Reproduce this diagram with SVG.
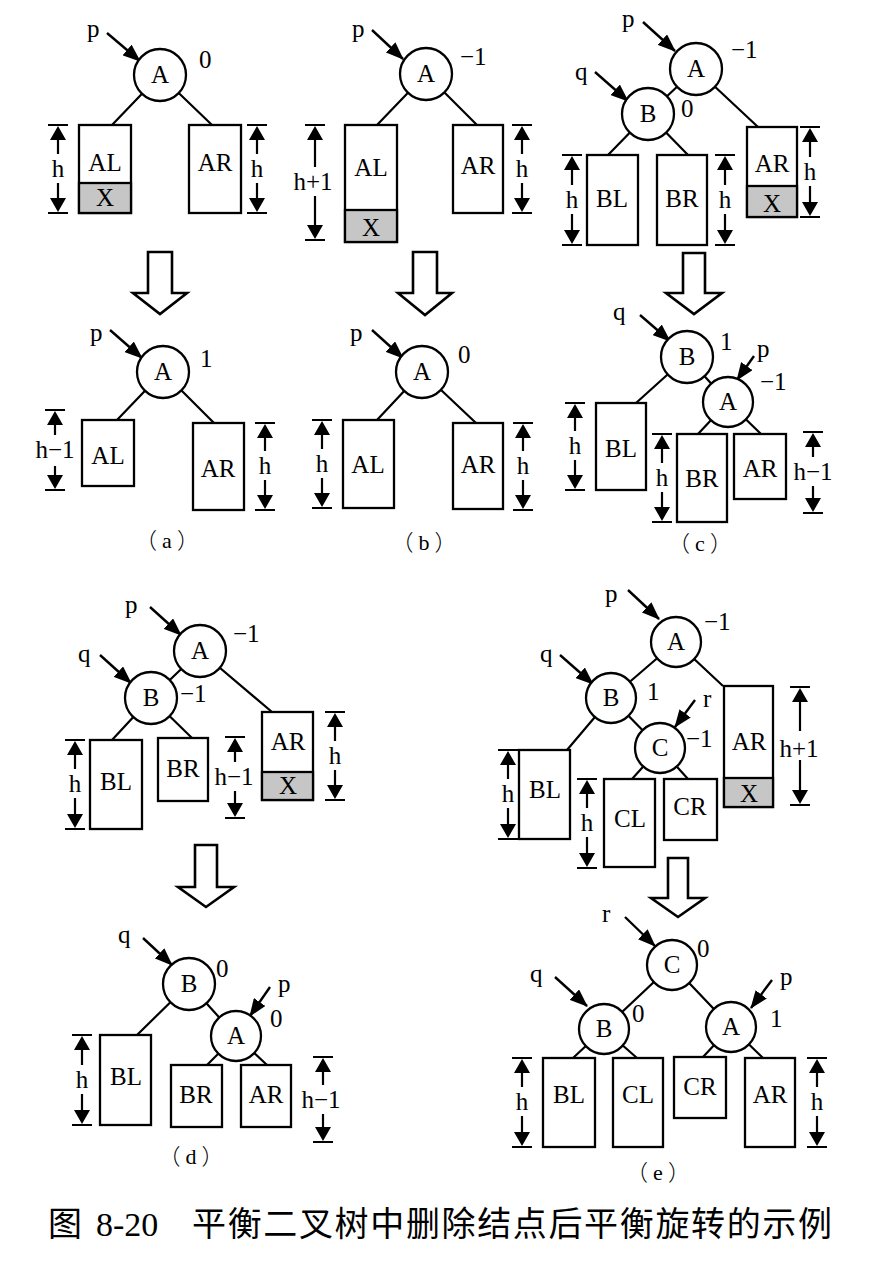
<svg xmlns="http://www.w3.org/2000/svg" width="880" height="1264" viewBox="0 0 880 1264">
<style>
.e{stroke:#000;stroke-width:2.2;fill:none}
.ptr{stroke:#000;stroke-width:2.4;fill:none;marker-end:url(#ah)}
.n{fill:#fff;stroke:#000;stroke-width:2.3}
.b{fill:#fff;stroke:#000;stroke-width:2.3}
.x{fill:#c6c6c6;stroke:#000;stroke-width:2.3}
.t{font-family:"Liberation Serif",serif;font-size:25px;fill:#000;text-anchor:middle}
.s{font-family:"Liberation Serif",serif;font-size:25px;fill:#000}
.cap{font-family:"Liberation Serif",serif;font-size:22px;fill:#000;text-anchor:middle}
.pa{font-family:"Noto Sans CJK SC",sans-serif;font-weight:300}
.dl{stroke:#000;stroke-width:2.2;fill:none}
.dt{fill:#000}
.big{fill:#fff;stroke:#000;stroke-width:2.6;stroke-linejoin:miter}
</style>
<defs>
<marker id="ah" markerUnits="userSpaceOnUse" markerWidth="18" markerHeight="14" refX="17" refY="7" orient="auto">
<path d="M0,0 L18,7 L0,14 Z" fill="#000"/>
</marker>
</defs>
<rect width="880" height="1264" fill="#fff"/>

<g id="connectors">
<path class="e" d="M160 75L112 125M160 75L212 125"/>
<path class="e" d="M426 74L377 125M426 74L477 125"/>
<path class="e" d="M696 69L648 114M696 69L758 127M648 114L608 155M648 114L688 155"/>
<path class="e" d="M163 372L117 420M163 372L214 423"/>
<path class="e" d="M422 372L377 420M422 372L476 423"/>
<path class="e" d="M687 357L728 402M687 357L636 403M728 402L698 434M728 402L761 434"/>
<path class="e" d="M200 651L151 698M200 651L272 712M151 698L112 740M151 698L192 738"/>
<path class="e" d="M189 984L236 1036M189 984L137 1035M236 1036L207 1065M236 1036L267 1065"/>
<path class="e" d="M676 642L611 698M676 642L723 686M611 698L660 748M611 698L567 750M660 748L632 779M660 748L688 779"/>
<path class="e" d="M672 965L604 1029M672 965L731 1027M604 1029L573 1058M604 1029L637 1058M731 1027L703 1057M731 1027L763 1058"/>
<line class="ptr" x1="107" y1="33" x2="140" y2="61"/>
<line class="ptr" x1="372" y1="30" x2="403" y2="59"/>
<line class="ptr" x1="643" y1="22" x2="675" y2="51"/>
<line class="ptr" x1="595" y1="72" x2="628" y2="101"/>
<line class="ptr" x1="110" y1="330" x2="142" y2="358"/>
<line class="ptr" x1="372" y1="330" x2="403" y2="358"/>
<line class="ptr" x1="640" y1="315" x2="670" y2="341"/>
<line class="ptr" x1="754" y1="356" x2="737" y2="380"/>
<line class="ptr" x1="150" y1="607" x2="181" y2="635"/>
<line class="ptr" x1="100" y1="655" x2="131" y2="683"/>
<line class="ptr" x1="143" y1="938" x2="172" y2="965"/>
<line class="ptr" x1="270" y1="987" x2="250" y2="1016"/>
<line class="ptr" x1="628" y1="590" x2="659" y2="619"/>
<line class="ptr" x1="560" y1="655" x2="593" y2="684"/>
<line class="ptr" x1="695" y1="700" x2="675" y2="727"/>
<line class="ptr" x1="625" y1="917" x2="655" y2="946"/>
<line class="ptr" x1="555" y1="977" x2="587" y2="1006"/>
<line class="ptr" x1="772" y1="980" x2="751" y2="1008"/>
</g>

<g id="transform-arrows">
<polygon class="big" points="148,252 172,252 172,293 187,293 160,314 133,293 148,293"/>
<polygon class="big" points="413,252 437,252 437,293 452,293 425,315 398,293 413,293"/>
<polygon class="big" points="683,253 705,253 705,293 722,293 694,314 666,293 683,293"/>
<polygon class="big" points="195,845 217,845 217,887 234,887 206,907 178,887 195,887"/>
<polygon class="big" points="668,858 688,858 688,898 705,898 678,917 651,898 668,898"/>
</g>

<g id="a-top">
<g id="a-top-A"><circle class="n" cx="160" cy="75" r="26"/><text class="t" x="160" y="83">A</text></g>
<text class="s" x="87" y="37">p</text>
<text class="s" x="199" y="68">0</text>
<g id="a-top-AL"><rect class="b" x="79" y="125" width="52" height="88"/><rect class="x" x="79" y="183" width="52" height="30"/><text class="t" x="105" y="171">AL</text><text class="t" x="105" y="206">X</text></g>
<g id="a-top-AR"><rect class="b" x="189" y="125" width="52" height="88"/><text class="t" x="215" y="171">AR</text></g>
</g>
<g id="a-bottom">
<g id="a-bot-A"><circle class="n" cx="163" cy="372" r="26"/><text class="t" x="163" y="380">A</text></g>
<text class="s" x="90" y="341">p</text>
<text class="s" x="200" y="367">1</text>
<g id="a-bot-AL"><rect class="b" x="82" y="420" width="52" height="66"/><text class="t" x="108" y="464">AL</text></g>
<g id="a-bot-AR"><rect class="b" x="193" y="423" width="51" height="87"/><text class="t" x="218" y="477">AR</text></g>
<text class="cap" x="167" y="548"><tspan class="pa">（</tspan><tspan dx="5">a</tspan><tspan class="pa" dx="5">）</tspan></text>
</g>

<g id="b-top">
<g id="b-top-A"><circle class="n" cx="426" cy="74" r="26"/><text class="t" x="426" y="82">A</text></g>
<text class="s" x="352" y="37">p</text>
<text class="s" x="460" y="65">−1</text>
<g id="b-top-AL"><rect class="b" x="345" y="125" width="52" height="117"/><rect class="x" x="345" y="210" width="52" height="32"/><text class="t" x="371" y="176">AL</text><text class="t" x="371" y="236">X</text></g>
<g id="b-top-AR"><rect class="b" x="453" y="125" width="50" height="88"/><text class="t" x="478" y="174">AR</text></g>
</g>
<g id="b-bottom">
<g id="b-bot-A"><circle class="n" cx="422" cy="372" r="26"/><text class="t" x="422" y="380">A</text></g>
<text class="s" x="350" y="341">p</text>
<text class="s" x="458" y="363">0</text>
<g id="b-bot-AL"><rect class="b" x="343" y="420" width="51" height="88"/><text class="t" x="368" y="473">AL</text></g>
<g id="b-bot-AR"><rect class="b" x="453" y="423" width="50" height="86"/><text class="t" x="478" y="473">AR</text></g>
<text class="cap" x="424" y="550"><tspan class="pa">（</tspan><tspan dx="5">b</tspan><tspan class="pa" dx="5">）</tspan></text>
</g>

<g id="c-top">
<g id="c-top-A"><circle class="n" cx="696" cy="69" r="26"/><text class="t" x="696" y="77">A</text></g>
<g id="c-top-B"><circle class="n" cx="648" cy="114" r="26"/><text class="t" x="648" y="122">B</text></g>
<text class="s" x="622" y="27">p</text>
<text class="s" x="731" y="58">−1</text>
<text class="s" x="575" y="80">q</text>
<text class="s" x="681" y="117">0</text>
<g id="c-top-AR"><rect class="b" x="747" y="127" width="50" height="90"/><rect class="x" x="747" y="186" width="50" height="31"/><text class="t" x="772" y="172">AR</text><text class="t" x="772" y="212">X</text></g>
<g id="c-top-BL"><rect class="b" x="587" y="155" width="51" height="90"/><text class="t" x="612" y="207">BL</text></g>
<g id="c-top-BR"><rect class="b" x="657" y="155" width="50" height="90"/><text class="t" x="682" y="207">BR</text></g>
</g>
<g id="c-bottom">
<g id="c-bot-B"><circle class="n" cx="687" cy="357" r="26"/><text class="t" x="687" y="365">B</text></g>
<g id="c-bot-A"><circle class="n" cx="728" cy="402" r="25"/><text class="t" x="728" y="410">A</text></g>
<text class="s" x="613" y="320">q</text>
<text class="s" x="720" y="350">1</text>
<text class="s" x="757" y="357">p</text>
<text class="s" x="760" y="390">−1</text>
<g id="c-bot-BL"><rect class="b" x="596" y="403" width="50" height="87"/><text class="t" x="621" y="457">BL</text></g>
<g id="c-bot-BR"><rect class="b" x="677" y="434" width="50" height="88"/><text class="t" x="702" y="487">BR</text></g>
<g id="c-bot-AR"><rect class="b" x="734" y="434" width="52" height="65"/><text class="t" x="760" y="477">AR</text></g>
<text class="cap" x="700" y="551"><tspan class="pa">（</tspan><tspan dx="5">c</tspan><tspan class="pa" dx="5">）</tspan></text>
</g>

<g id="d-top">
<g id="d-top-A"><circle class="n" cx="200" cy="651" r="26"/><text class="t" x="200" y="659">A</text></g>
<g id="d-top-B"><circle class="n" cx="151" cy="698" r="26"/><text class="t" x="151" y="706">B</text></g>
<text class="s" x="125" y="613">p</text>
<text class="s" x="233" y="642">−1</text>
<text class="s" x="78" y="662">q</text>
<text class="s" x="180" y="702">−1</text>
<g id="d-top-AR"><rect class="b" x="262" y="712" width="51" height="88"/><rect class="x" x="262" y="772" width="51" height="28"/><text class="t" x="288" y="750">AR</text><text class="t" x="288" y="794">X</text></g>
<g id="d-top-BL"><rect class="b" x="90" y="740" width="52" height="89"/><text class="t" x="116" y="790">BL</text></g>
<g id="d-top-BR"><rect class="b" x="158" y="738" width="50" height="63"/><text class="t" x="183" y="777">BR</text></g>
</g>
<g id="d-bottom">
<g id="d-bot-B"><circle class="n" cx="189" cy="984" r="26"/><text class="t" x="189" y="992">B</text></g>
<g id="d-bot-A"><circle class="n" cx="236" cy="1036" r="25"/><text class="t" x="236" y="1044">A</text></g>
<text class="s" x="118" y="943">q</text>
<text class="s" x="216" y="977">0</text>
<text class="s" x="278" y="992">p</text>
<text class="s" x="270" y="1027">0</text>
<g id="d-bot-BL"><rect class="b" x="100" y="1035" width="51" height="90"/><text class="t" x="126" y="1085">BL</text></g>
<g id="d-bot-BR"><rect class="b" x="171" y="1065" width="51" height="62"/><text class="t" x="196" y="1103">BR</text></g>
<g id="d-bot-AR"><rect class="b" x="241" y="1065" width="50" height="62"/><text class="t" x="266" y="1103">AR</text></g>
<text class="cap" x="191" y="1164"><tspan class="pa">（</tspan><tspan dx="5">d</tspan><tspan class="pa" dx="5">）</tspan></text>
</g>

<g id="e-top">
<g id="e-top-A"><circle class="n" cx="676" cy="642" r="25"/><text class="t" x="676" y="650">A</text></g>
<g id="e-top-B"><circle class="n" cx="611" cy="698" r="25"/><text class="t" x="611" y="706">B</text></g>
<g id="e-top-C"><circle class="n" cx="660" cy="748" r="25"/><text class="t" x="660" y="756">C</text></g>
<text class="s" x="605" y="602">p</text>
<text class="s" x="704" y="630">−1</text>
<text class="s" x="540" y="662">q</text>
<text class="s" x="647" y="700">1</text>
<text class="s" x="703" y="707">r</text>
<text class="s" x="686" y="747">−1</text>
<g id="e-top-AR"><rect class="b" x="724" y="686" width="49" height="121"/><rect class="x" x="724" y="778" width="49" height="29"/><text class="t" x="749" y="750">AR</text><text class="t" x="749" y="802">X</text></g>
<g id="e-top-BL"><rect class="b" x="519" y="750" width="51" height="89"/><text class="t" x="545" y="798">BL</text></g>
<g id="e-top-CL"><rect class="b" x="604" y="779" width="51" height="88"/><text class="t" x="630" y="827">CL</text></g>
<g id="e-top-CR"><rect class="b" x="664" y="779" width="53" height="61"/><text class="t" x="690" y="815">CR</text></g>
</g>
<g id="e-bottom">
<g id="e-bot-C"><circle class="n" cx="672" cy="965" r="25"/><text class="t" x="672" y="973">C</text></g>
<g id="e-bot-B"><circle class="n" cx="604" cy="1029" r="25"/><text class="t" x="604" y="1037">B</text></g>
<g id="e-bot-A"><circle class="n" cx="731" cy="1027" r="25"/><text class="t" x="731" y="1035">A</text></g>
<text class="s" x="602" y="922">r</text>
<text class="s" x="697" y="957">0</text>
<text class="s" x="530" y="982">q</text>
<text class="s" x="632" y="1022">0</text>
<text class="s" x="780" y="985">p</text>
<text class="s" x="770" y="1027">1</text>
<g id="e-bot-BL"><rect class="b" x="543" y="1058" width="52" height="89"/><text class="t" x="569" y="1103">BL</text></g>
<g id="e-bot-CL"><rect class="b" x="613" y="1058" width="50" height="89"/><text class="t" x="638" y="1103">CL</text></g>
<g id="e-bot-CR"><rect class="b" x="674" y="1057" width="52" height="61"/><text class="t" x="700" y="1095">CR</text></g>
<g id="e-bot-AR"><rect class="b" x="745" y="1058" width="50" height="89"/><text class="t" x="770" y="1103">AR</text></g>
<text class="cap" x="658" y="1180"><tspan class="pa">（</tspan><tspan dx="5">e</tspan><tspan class="pa" dx="5">）</tspan></text>
</g>

<g id="dimensions">
<path class="dl" d="M48 125H68M48 213H68M58 140V154M58 183V198 M247 125H267M247 213H267M257 140V154M257 183V198 M305 125H325M305 240H325M315 140V167M315 196V225 M512 125H532M512 213H532M522 140V154M522 183V198 M800 127H820M800 217H820M810 142V157M810 186V202 M562 155H582M562 245H582M572 170V185M572 214V230 M715 155H735M715 245H735M725 170V185M725 214V230"/>
<path class="dt" d="M58 126L50 140H66ZM58 212L50 198H66Z M257 126L249 140H265ZM257 212L249 198H265Z M315 126L307 140H323ZM315 239L307 225H323Z M522 126L514 140H530ZM522 212L514 198H530Z M810 128L802 142H818ZM810 216L802 202H818Z M572 156L564 170H580ZM572 244L564 230H580Z M725 156L717 170H733ZM725 244L717 230H733Z"/>
<path class="dl" d="M45 410H65M45 490H65M55 425V435M55 466V475 M255 423H275M255 510H275M265 438V451M265 480V495 M312 420H332M312 508H332M322 435V449M322 478V493 M513 423H533M513 510H533M523 438V451M523 480V495 M565 403H585M565 490H585M575 418V431M575 460V475 M652 434H672M652 522H672M662 449V463M662 492V507 M803 432H823M803 513H823M813 447V457M813 486V498"/>
<path class="dt" d="M55 411L47 425H63ZM55 489L47 475H63Z M265 424L257 438H273ZM265 509L257 495H273Z M322 421L314 435H330ZM322 507L314 493H330Z M523 424L515 438H531ZM523 509L515 495H531Z M575 404L567 418H583ZM575 489L567 475H583Z M662 435L654 449H670ZM662 521L654 507H670Z M813 433L805 447H821ZM813 512L805 498H821Z"/>
<path class="dl" d="M325 712H345M325 800H345M335 727V741M335 770V785 M65 740H85M65 829H85M75 755V769M75 798V814 M225 737H245M225 818H245M235 752V762M235 791V803 M72 1035H92M72 1125H92M82 1050V1065M82 1094V1110 M313 1057H333M313 1142H333M323 1072V1085M323 1114V1127"/>
<path class="dt" d="M335 713L327 727H343ZM335 799L327 785H343Z M75 741L67 755H83ZM75 828L67 814H83Z M235 738L227 752H243ZM235 817L227 803H243Z M82 1036L74 1050H90ZM82 1124L74 1110H90Z M323 1058L315 1072H331ZM323 1141L315 1127H331Z"/>
<path class="dl" d="M790 687H810M790 805H810M800 702V731M800 760V790 M498 750H518M498 839H518M508 765V779M508 808V824 M577 779H597M577 868H597M587 794V808M587 837V853 M512 1058H532M512 1147H532M522 1073V1087M522 1116V1132 M807 1058H827M807 1147H827M817 1073V1087M817 1116V1132"/>
<path class="dt" d="M800 688L792 702H808ZM800 804L792 790H808Z M508 751L500 765H516ZM508 838L500 824H516Z M587 780L579 794H595ZM587 867L579 853H595Z M522 1059L514 1073H530ZM522 1146L514 1132H530Z M817 1059L809 1073H825ZM817 1146L809 1132H825Z"/>
<text class="t" x="58" y="177">h</text>
<text class="t" x="257" y="177">h</text>
<text class="t" x="313" y="190">h+1</text>
<text class="t" x="522" y="177">h</text>
<text class="t" x="810" y="180">h</text>
<text class="t" x="572" y="208">h</text>
<text class="t" x="725" y="208">h</text>
<text class="t" x="55" y="458">h−1</text>
<text class="t" x="265" y="474">h</text>
<text class="t" x="322" y="472">h</text>
<text class="t" x="523" y="474">h</text>
<text class="t" x="575" y="454">h</text>
<text class="t" x="662" y="486">h</text>
<text class="t" x="813" y="480">h−1</text>
<text class="t" x="335" y="764">h</text>
<text class="t" x="75" y="792">h</text>
<text class="t" x="234" y="785">h−1</text>
<text class="t" x="82" y="1088">h</text>
<text class="t" x="321" y="1108">h−1</text>
<text class="t" x="799" y="757">h+1</text>
<text class="t" x="508" y="802">h</text>
<text class="t" x="587" y="831">h</text>
<text class="t" x="522" y="1110">h</text>
<text class="t" x="817" y="1110">h</text>
</g>

<g id="caption">
<text x="48" y="1236" style="font-family:'Noto Sans CJK SC',sans-serif;font-size:34px">图</text>
<text x="96" y="1236" style="font-family:'Liberation Serif',serif;font-size:34px">8-20</text>
<text x="192" y="1236" textLength="640" lengthAdjust="spacing" style="font-family:'Noto Sans CJK SC',sans-serif;font-size:34px">平衡二叉树中删除结点后平衡旋转的示例</text>
</g>
</svg>
